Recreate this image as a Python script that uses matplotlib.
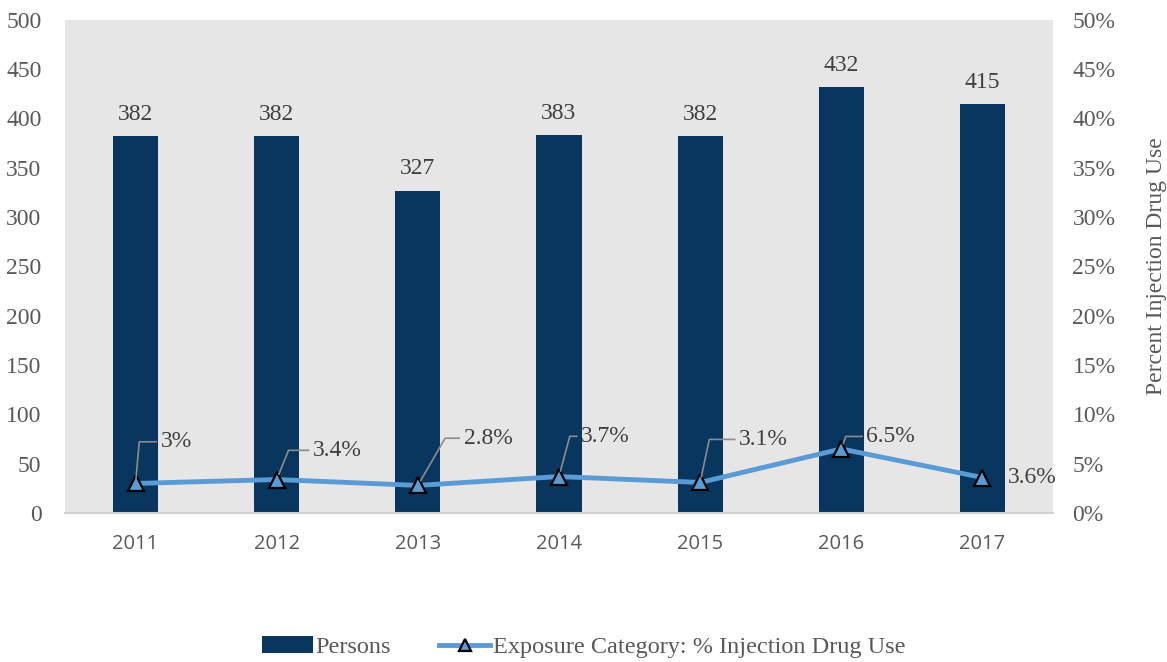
import numpy as np
import matplotlib.pyplot as plt
from matplotlib.ticker import PercentFormatter

years = ['2011', '2012', '2013', '2014', '2015', '2016', '2017']
persons = [382, 382, 327, 383, 382, 432, 415]
idu_pct = [3.0, 3.4, 2.8, 3.7, 3.1, 6.5, 3.6]
idu_labels = ['3%', '3.4%', '2.8%', '3.7%', '3.1%', '6.5%', '3.6%']
# label offsets (points) from each marker, and leader angle at the marker
lab_dx = [18, 26, 33, 16, 28, 18, 18]
lab_dy = [30, 21, 34, 29, 31, 9, 0]
lead_ang = [85, 68, 60, 75, 78, 70, 0]

serif = 'Liberation Serif'
grey = '#595959'
navy = '#08365f'
blue = '#5b9bd5'
fs = 17

fig = plt.figure(figsize=(11.67, 6.62), dpi=100)
ax = fig.add_axes([0.0557, 0.225, 0.8466, 0.745])
ax.set_facecolor('#e6e6e6')
x = np.arange(len(years))

bars = ax.bar(x, persons, width=0.32, color=navy, label='Persons', zorder=2)
for xi, v in zip(x, persons):
    ax.annotate(str(v), (xi, v), xytext=(0, 8), textcoords='offset points',
                ha='center', va='bottom', fontsize=fs, family=serif, color='#404040')

ax.set_xlim(-0.5, len(years) - 0.5)
ax.set_ylim(0, 500)
ax.set_yticks(np.arange(0, 501, 50))
ax.set_xticks(x)
ax.set_xticklabels(years, family='Open Sans', fontsize=14.5, color=grey)
for t in ax.get_yticklabels():
    t.set_family(serif)
    t.set_fontsize(fs)
    t.set_color(grey)
ax.tick_params(axis='both', length=0)
ax.tick_params(axis='x', pad=15)
ax.tick_params(axis='y', pad=17)
for s in ['top', 'right', 'left']:
    ax.spines[s].set_visible(False)
ax.spines['bottom'].set_color('#d0d0d0')
ax.spines['bottom'].set_linewidth(1.5)

ax2 = ax.twinx()
ln, = ax2.plot(x, np.array(idu_pct) / 100, color=blue, lw=3.5, marker='^', ms=12,
               mfc=blue, mec='black', mew=1.6, zorder=3,
               label='Exposure Category: % Injection Drug Use')
ax2.set_ylim(0, 0.5)
ax2.set_yticks(np.arange(0, 0.501, 0.05))
ax2.yaxis.set_major_formatter(PercentFormatter(1.0, decimals=0))
for t in ax2.get_yticklabels():
    t.set_family(serif)
    t.set_fontsize(fs)
    t.set_color(grey)
ax2.tick_params(axis='y', length=0, pad=14)
for s in ['top', 'right', 'left', 'bottom']:
    ax2.spines[s].set_visible(False)
ax2.set_ylabel('Percent Injection Drug Use', family=serif, fontsize=fs,
               color=grey, labelpad=22)

for xi, v, lab, dx, dy, ang in zip(x, idu_pct, idu_labels, lab_dx, lab_dy, lead_ang):
    if dy > 0:
        ap = dict(arrowstyle='-', color='#8c8c8c', lw=1.2, shrinkA=1, shrinkB=4,
                  relpos=(0, 0.5),
                  connectionstyle=f'angle,angleA=0,angleB={ang},rad=0')
        ax2.annotate(lab, (xi, v / 100), xytext=(dx, dy), textcoords='offset points',
                     ha='left', va='center', fontsize=fs, family=serif,
                     color='#404040', arrowprops=ap)
    else:
        ax2.annotate(lab, (xi, v / 100), xytext=(dx, dy), textcoords='offset points',
                     ha='left', va='center', fontsize=fs, family=serif,
                     color='#404040')

leg = fig.legend([bars, ln], ['Persons', 'Exposure Category: % Injection Drug Use'],
                 loc='center', bbox_to_anchor=(0.5, 0.022), ncol=2, frameon=False,
                 prop={'family': serif, 'size': 17.5}, handlelength=2.1,
                 columnspacing=2.0, handletextpad=0.1, markerscale=0.7)
for t in leg.get_texts():
    t.set_color(grey)

fig.savefig('out.png', dpi=100)
